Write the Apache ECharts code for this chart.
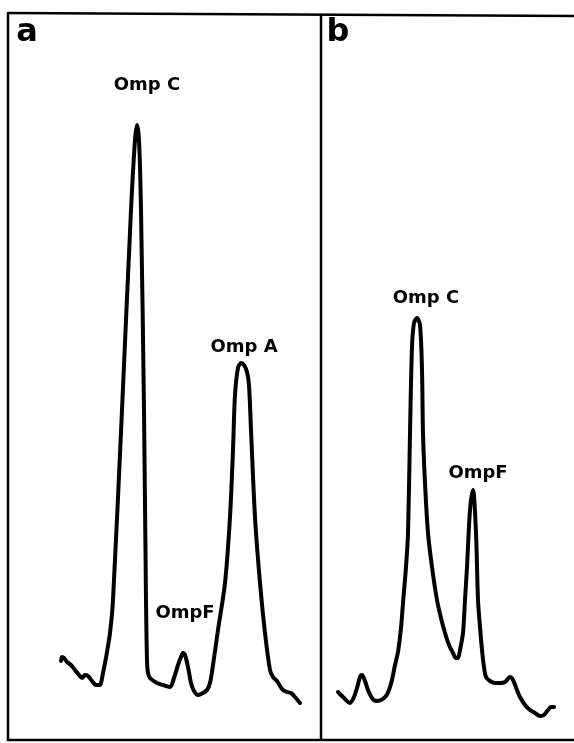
<!DOCTYPE html>
<html><head><meta charset="utf-8">
<script src="https://cdn.jsdelivr.net/npm/echarts@6/dist/echarts.min.js"></script>
<style>html,body{margin:0;padding:0;background:#fff}#c{width:574px;height:743px}</style>
</head><body><div id="c"></div>
<script>
// Densitometer scan, panel a: scan position (arbitrary units) and absorbance (arbitrary units)
const scanA_pos = [53,54,56,59,63,67,71,74,77,80,84,88,91,93,95,97,99,102,105,114,123,127,129,131,133,136,138,139,140,142,149,155,162,166,170,173,175,177,180,183,186,190,195,199,202,205,210,217,222,225,227,230,233,236,239,241,243,247,252,257,262,265,269,272,275,279,283,287,292];
const scanA_abs = [79,83,82,78,75,70,65,62,65,64,59,55,55,57,67,77,88,107,140,330,530,600,615,600,530,330,140,80,67,62,57,55,53,62,75,83,87,85,73,57,49,45,47,50,57,75,110,157,223,290,345,372,377,375,368,355,310,223,157,107,70,63,59,54,50,48,47,43,37];
// Panel b
const scanB_pos = [17,23,29,33,36,39,41,44,47,51,55,60,65,68,71,74,77,80,82,85,87,89,91,93,96,99,101,102,104,107,111,116,120,124,128,132,135,137,139,142,144,146,149,152,155,157,159,161,163,165,169,174,179,184,189,192,196,199,204,209,214,219,223,227,230,233];
const scanB_abs = [48,42,37,43,52,63,65,59,50,42,39,40,44,50,60,75,88,112,137,173,207,307,393,417,422,415,370,307,257,207,173,140,122,107,95,87,82,82,90,107,140,173,230,250,207,140,113,90,73,63,59,57,57,58,63,60,50,43,35,30,27,24,25,30,33,33];

const labelsA = [['Omp C',147,85],['Omp A',244,347],['OmpF',185,613]];
const labelsB = [['Omp C',426,298],['OmpF',478,473]];

const chart = echarts.init(document.getElementById('c'));
const pair = (xs, ys) => xs.map((x, i) => [x, ys[i]]);
const lineStyle = {color:'#000', width:4, cap:'round', join:'round'};
const font = 'bold 18px "DejaVu Sans", sans-serif';
const txt = (t, x, y, f) => ({type:'text', x, y, style:{text:t, font:f||font, fill:'#000', textAlign:'center', textVerticalAlign:'middle'}});
const frame = (x1, y1, x2, y2) => ({type:'line', shape:{x1, y1, x2, y2}, style:{stroke:'#000', lineWidth:2.5}});

chart.setOption({
  animation:false,
  grid:[
    {left:8, top:13, width:313, bottom:3, show:false},
    {left:321, top:13, width:253, bottom:3, show:false}
  ],
  xAxis:[
    {type:'value', gridIndex:0, min:0, max:313, show:false},
    {type:'value', gridIndex:1, min:0, max:253, show:false}
  ],
  yAxis:[
    {type:'value', gridIndex:0, min:0, max:727, show:false},
    {type:'value', gridIndex:1, min:0, max:727, show:false}
  ],
  series:[
    {type:'line', xAxisIndex:0, yAxisIndex:0, data:pair(scanA_pos, scanA_abs), showSymbol:false, smooth:0.3, lineStyle},
    {type:'line', xAxisIndex:1, yAxisIndex:1, data:pair(scanB_pos, scanB_abs), showSymbol:false, smooth:0.3, lineStyle}
  ],
  graphic:[
    frame(8, 13, 574, 16),
    frame(8, 12, 8, 741),
    frame(321, 14, 321, 741),
    frame(8, 740, 574, 740),
    txt('a', 27, 33, 'bold 32px "DejaVu Sans", sans-serif'),
    txt('b', 338, 33, 'bold 32px "DejaVu Sans", sans-serif'),
    ...labelsA.map(l => txt(l[0], l[1], l[2])),
    ...labelsB.map(l => txt(l[0], l[1], l[2]))
  ]
});
</script></body></html>
